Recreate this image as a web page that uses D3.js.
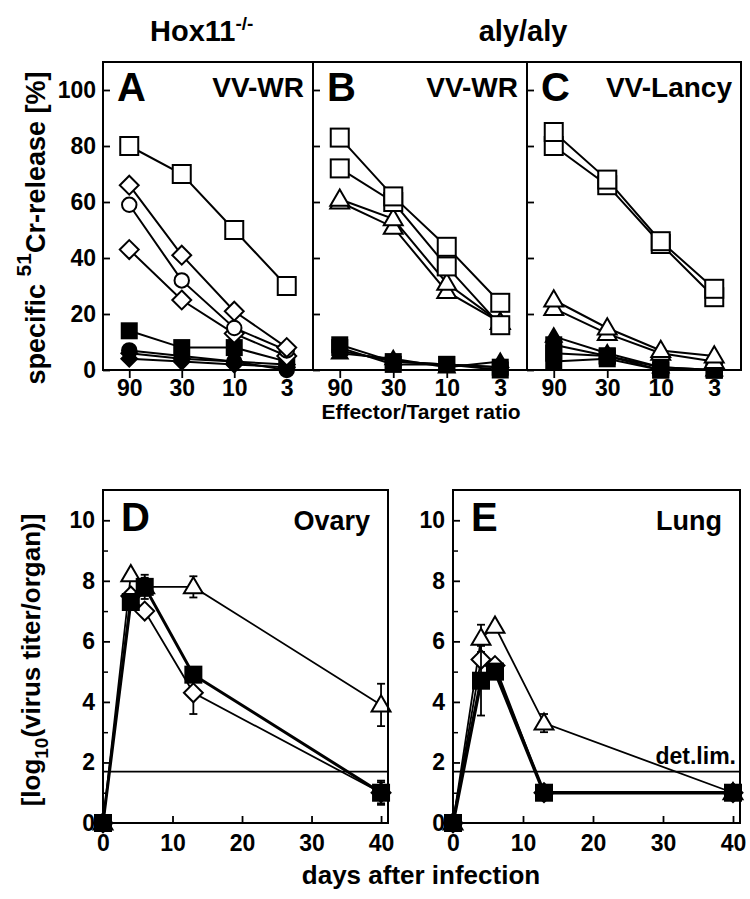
<!DOCTYPE html>
<html>
<head>
<meta charset="utf-8">
<script src="https://d3js.org/d3.v7.min.js"></script>
<style>
  body { margin: 0; background: #fff; }
  text { font-family: "Liberation Sans", Arial, sans-serif; font-weight: bold; fill: #000; }
</style>
</head>
<body>
<script>
// ---- data: cytotoxicity (top panels) ----
const ratios = ["90", "30", "10", "3"];
const cytoTicks = [0, 20, 40, 60, 80, 100];

// panel A, Hox11-/- , VV-WR
const aOpenSquare   = [80, 70, 50, 30];
const aOpenDiamond1 = [66, 41, 21, 8];
const aOpenCircle   = [59, 32, 15, 7];
const aOpenDiamond2 = [43, 25, 13, 5];
const aFillSquare   = [14, 8, 8, 3];
const aFillCircle   = [7, 5, 3, 0];
const aFillDiamond1 = [4, 3, 2, 1];
const aFillDiamond2 = [6, 4, 3, 2];

// panel B, aly/aly, VV-WR
const bOpenSquare1   = [83, 62, 44, 24];
const bOpenSquare2   = [72, 60, 37, 16];
const bOpenTriangle1 = [61, 54, 31, 17];
const bOpenTriangle2 = [60, 51, 28, 17];
const bFillSquare1   = [9, 3, 2, 0];
const bFillSquare2   = [8, 2, 2, 1];
const bFillTriangle  = [6, 4, 1, 3];
const bFillCircle    = [7, 3, 2, 1];

// panel C, aly/aly, VV-Lancy
const cOpenSquare1   = [85, 68, 46, 29];
const cOpenSquare2   = [80, 66, 45, 26];
const cOpenTriangle1 = [25, 15, 7, 5];
const cOpenTriangle2 = [22, 13, 6, 3];
const cFillTriangle  = [12, 6, 1, 0];
const cFillSquare1   = [9, 5, 0, 0];
const cFillSquare2   = [6, 5, 1, 0];
const cFillSquare3   = [3, 4, 0, 0];

// ---- data: virus titers (bottom panels) ----
const days = [0, 4, 6, 13, 40];
const dayTicks = [0, 10, 20, 30, 40];
const titerTicks = [0, 2, 4, 6, 8, 10];
const titerMinor = [1, 3, 5, 7, 9];
const detLimit = 1.7;

// panel D, ovary
const dTriangle    = [0, 8.2, 7.8, 7.8, 3.9];
const dTriangleErr = [0, 0, 0.3, 0.35, 0.7];
const dDiamond     = [0, 7.5, 7.0, 4.3, 1.0];
const dDiamondErr  = [0, 0, 0, 0.7, 0.4];
const dSquare      = [0, 7.3, 7.8, 4.9, 1.0];
const dSquareErr   = [0, 0, 0.4, 0, 0.35];

// panel E, lung
const eTriangle    = [0, 6.1, 6.5, 3.3, 1.0];
const eTriangleErr = [0, 0.45, 0, 0.3, 0];
const eDiamond     = [0, 5.4, 5.2, 1.0, 1.0];
const eDiamondErr  = [0, 0, 0, 0, 0];
const eSquare      = [0, 4.7, 5.0, 1.0, 1.0];
const eSquareErr   = [0, 1.15, 0, 0, 0];

const svg = d3.select("body").append("svg")
    .attr("width", 750)
    .attr("height", 899);

// marker shapes
function marker(g, shape, filled, x, y, sz) {
  let p;
  if (shape === "square") {
    p = g.append("rect").attr("x", x - sz / 2).attr("y", y - sz / 2)
        .attr("width", sz).attr("height", sz);
  } else if (shape === "diamond") {
    const r = sz / 2 * 1.05;
    p = g.append("path").attr("d", `M${x},${y - r}L${x + r},${y}L${x},${y + r}L${x - r},${y}Z`);
  } else if (shape === "circle") {
    p = g.append("circle").attr("cx", x).attr("cy", y).attr("r", sz / 2 * 0.85);
  } else {
    const h = sz * 0.9, w = sz * 1.05;
    p = g.append("path").attr("d", `M${x},${y - h * 0.6}L${x + w / 2},${y + h * 0.4}L${x - w / 2},${y + h * 0.4}Z`);
  }
  p.attr("fill", filled ? "#000" : "#fff").attr("stroke", "#000").attr("stroke-width", 2);
}

// ---- top panels ----
const topY = d3.scaleLinear().domain([0, 110]).range([370, 62]);

const topPanels = [
  { x0: 103, x1: 313, letter: "A", label: "VV-WR", labelsY: true, series: [
    [aFillDiamond2, "diamond", true], [aFillDiamond1, "diamond", true],
    [aFillCircle, "circle", true], [aFillSquare, "square", true],
    [aOpenDiamond2, "diamond", false], [aOpenCircle, "circle", false],
    [aOpenDiamond1, "diamond", false], [aOpenSquare, "square", false]] },
  { x0: 313, x1: 527, letter: "B", label: "VV-WR", series: [
    [bFillCircle, "circle", true], [bFillTriangle, "triangle", true],
    [bFillSquare2, "square", true], [bFillSquare1, "square", true],
    [bOpenTriangle2, "triangle", false], [bOpenTriangle1, "triangle", false],
    [bOpenSquare2, "square", false], [bOpenSquare1, "square", false]] },
  { x0: 527, x1: 741, letter: "C", label: "VV-Lancy", series: [
    [cFillSquare3, "square", true], [cFillSquare2, "square", true],
    [cFillSquare1, "square", true], [cFillTriangle, "triangle", true],
    [cOpenTriangle2, "triangle", false], [cOpenTriangle1, "triangle", false],
    [cOpenSquare2, "square", false], [cOpenSquare1, "square", false]] }
];

topPanels.forEach(p => {
  const x = d3.scalePoint().domain(ratios).range([p.x0, p.x1]).padding(0.5);
  const g = svg.append("g");

  // y ticks inward
  g.append("g").attr("transform", `translate(${p.x0},0)`)
    .call(d3.axisRight(topY).tickValues(cytoTicks).tickSize(7).tickFormat(""))
    .call(a => a.select(".domain").remove())
    .selectAll("line").attr("stroke-width", 1.8);

  // x ticks outward
  const xa = g.append("g").attr("transform", "translate(0,370)")
    .call(d3.axisBottom(x).tickSize(8).tickPadding(2));
  xa.select(".domain").remove();
  xa.selectAll("line").attr("stroke-width", 1.8);
  xa.selectAll("text").attr("font-size", 23).attr("dy", "0.71em")
    .attr("font-family", "Liberation Sans, Arial, sans-serif").attr("font-weight", "bold");

  if (p.labelsY) {
    const ya = g.append("g").attr("transform", `translate(${p.x0},0)`)
      .call(d3.axisLeft(topY).tickValues(cytoTicks).tickSize(0).tickPadding(7));
    ya.select(".domain").remove();
    ya.selectAll("text").attr("font-size", 23)
      .attr("font-family", "Liberation Sans, Arial, sans-serif").attr("font-weight", "bold");
  }

  const line = d3.line().x((d, i) => x(ratios[i])).y(d => topY(d));
  p.series.forEach(s => {
    g.append("path").attr("d", line(s[0])).attr("fill", "none")
      .attr("stroke", "#000").attr("stroke-width", 2);
  });
  p.series.forEach(s => {
    s[0].forEach((v, i) => marker(g, s[1], s[2], x(ratios[i]), topY(v), s[1] === "circle" ? 17 : (s[2] ? 15 : 18)));
  });

  g.append("rect").attr("x", p.x0).attr("y", 62).attr("width", p.x1 - p.x0).attr("height", 308)
    .attr("fill", "none").attr("stroke", "#000").attr("stroke-width", 2);

  g.append("text").attr("x", p.x0 + 14).attr("y", 101).attr("font-size", 40).text(p.letter);
  g.append("text").attr("x", p.x1 - 9).attr("y", 97).attr("font-size", 28)
    .attr("text-anchor", "end").text(p.label);
});

// titles
svg.append("text").attr("x", 150).attr("y", 41).attr("font-size", 29)
  .text("Hox11").append("tspan").attr("font-size", 19).attr("dy", -11).text("-/-");
svg.append("text").attr("x", 523).attr("y", 41).attr("font-size", 29)
  .attr("text-anchor", "middle").text("aly/aly");

svg.append("text").attr("x", 421).attr("y", 419).attr("font-size", 21)
  .attr("text-anchor", "middle").text("Effector/Target ratio");

svg.append("text").attr("transform", "translate(45,228) rotate(-90)")
  .attr("font-size", 27).attr("text-anchor", "middle")
  .text("specific ")
  .append("tspan").attr("font-size", 21).attr("dy", -14).text("51")
  .select(function() { return this.parentNode; })
  .append("tspan").attr("dy", 14).text("Cr-release [%]");

// ---- bottom panels ----
const botY = d3.scaleLinear().domain([0, 11]).range([823, 490]);

const botPanels = [
  { x0: 103, x1: 388, letter: "D", label: "Ovary", series: [
    [dDiamond, dDiamondErr, "diamond", false, 1.8],
    [dTriangle, dTriangleErr, "triangle", false, 1.8],
    [dSquare, dSquareErr, "square", true, 3]] },
  { x0: 453, x1: 740, letter: "E", label: "Lung", det: true, series: [
    [eTriangle, eTriangleErr, "triangle", false, 1.8],
    [eDiamond, eDiamondErr, "diamond", false, 1.8],
    [eSquare, eSquareErr, "square", true, 3.5]] }
];

botPanels.forEach(p => {
  const x = d3.scaleLinear().domain([0, 41]).range([p.x0, p.x1]);
  const g = svg.append("g");

  const ya = g.append("g").attr("transform", `translate(${p.x0},0)`)
    .call(d3.axisLeft(botY).tickValues(titerTicks).tickSize(0).tickPadding(8));
  ya.select(".domain").remove();
  ya.selectAll("text").attr("font-size", 23)
    .attr("font-family", "Liberation Sans, Arial, sans-serif").attr("font-weight", "bold");

  g.append("g").attr("transform", `translate(${p.x0},0)`)
    .call(d3.axisRight(botY).tickValues(titerTicks).tickSize(7).tickFormat(""))
    .call(a => a.select(".domain").remove())
    .selectAll("line").attr("stroke-width", 1.8);
  g.append("g").attr("transform", `translate(${p.x0},0)`)
    .call(d3.axisRight(botY).tickValues(titerMinor).tickSize(5).tickFormat(""))
    .call(a => a.select(".domain").remove())
    .selectAll("line").attr("stroke-width", 1.5);

  const xa = g.append("g").attr("transform", "translate(0,823)")
    .call(d3.axisTop(x).tickValues(dayTicks).tickSize(7).tickFormat(""));
  xa.select(".domain").remove();
  xa.selectAll("line").attr("stroke-width", 1.8);
  const xl = g.append("g").attr("transform", "translate(0,823)")
    .call(d3.axisBottom(x).tickValues(dayTicks).tickSize(0).tickPadding(8));
  xl.select(".domain").remove();
  xl.selectAll("text").attr("font-size", 23).attr("dy", "0.85em")
    .attr("font-family", "Liberation Sans, Arial, sans-serif").attr("font-weight", "bold");

  // detection limit
  g.append("line").attr("x1", p.x0).attr("x2", p.x1)
    .attr("y1", botY(detLimit)).attr("y2", botY(detLimit))
    .attr("stroke", "#000").attr("stroke-width", 1.8);
  if (p.det) {
    g.append("text").attr("x", p.x1 - 4).attr("y", botY(detLimit) - 8).attr("font-size", 23)
      .attr("text-anchor", "end").text("det.lim.");
  }

  const line = d3.line().x((d, i) => x(days[i])).y(d => botY(d));
  p.series.forEach(s => {
    g.append("path").attr("d", line(s[0])).attr("fill", "none")
      .attr("stroke", "#000").attr("stroke-width", s[4]);
  });
  p.series.forEach(s => {
    s[0].forEach((v, i) => {
      const e = s[1][i];
      if (e > 0) {
        const cx = x(days[i]);
        g.append("line").attr("x1", cx).attr("x2", cx)
          .attr("y1", botY(v - e)).attr("y2", botY(v + e))
          .attr("stroke", "#000").attr("stroke-width", 1.8);
        [v - e, v + e].forEach(ev => g.append("line")
          .attr("x1", cx - 4).attr("x2", cx + 4)
          .attr("y1", botY(ev)).attr("y2", botY(ev))
          .attr("stroke", "#000").attr("stroke-width", 1.8));
      }
    });
    s[0].forEach((v, i) => marker(g, s[2], s[3], x(days[i]), botY(v), s[3] ? 16 : 18));
  });

  g.append("rect").attr("x", p.x0).attr("y", 490).attr("width", p.x1 - p.x0).attr("height", 333)
    .attr("fill", "none").attr("stroke", "#000").attr("stroke-width", 2);

  g.append("text").attr("x", p.x0 + 18).attr("y", 531).attr("font-size", 40).text(p.letter);
  g.append("text").attr("x", p.x1 - 18).attr("y", 530).attr("font-size", 27)
    .attr("text-anchor", "end").text(p.label);
});

svg.append("text").attr("x", 421).attr("y", 884).attr("font-size", 26)
  .attr("text-anchor", "middle").text("days after infection");

svg.append("text").attr("transform", "translate(40,660) rotate(-90)")
  .attr("font-size", 26).attr("text-anchor", "middle")
  .text("[log")
  .append("tspan").attr("font-size", 19).attr("dy", 8).text("10")
  .select(function() { return this.parentNode; })
  .append("tspan").attr("dy", -8).text("(virus titer/organ)]");
</script>
</body>
</html>
